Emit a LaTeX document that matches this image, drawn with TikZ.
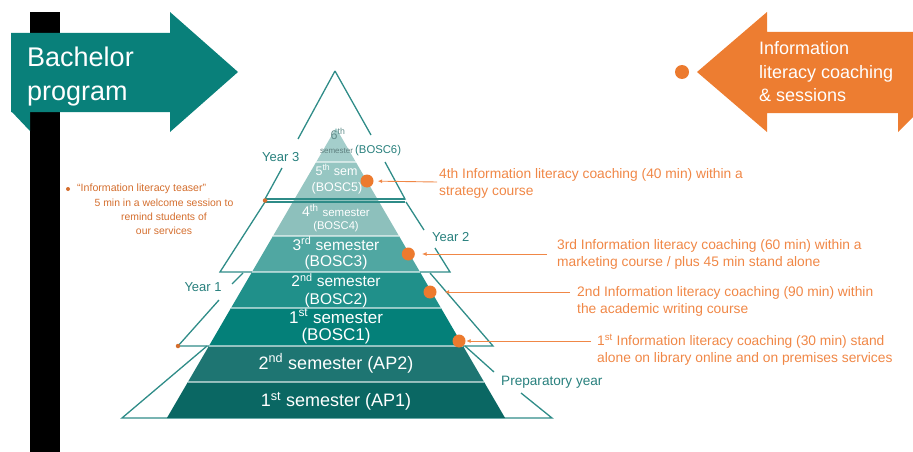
\documentclass[tikz,border=0pt]{standalone}
\usepackage{fontspec}
\setmainfont{Liberation Sans}
\usetikzlibrary{arrows.meta}

\definecolor{arrowteal}{RGB}{9,128,122}
\definecolor{arroworange}{RGB}{237,125,49}
\definecolor{outline}{RGB}{47,140,136}
\definecolor{labelteal}{RGB}{40,128,125}
\definecolor{noteorange}{RGB}{240,135,70}
\definecolor{teaserorange}{RGB}{212,110,46}
\definecolor{dotorange}{RGB}{236,122,46}
\definecolor{paletext}{RGB}{96,140,138}
\definecolor{tinytext}{RGB}{95,128,127}
\definecolor{layerA}{RGB}{164,206,203}
\definecolor{layerB}{RGB}{150,198,194}
\definecolor{layerC}{RGB}{141,192,188}
\definecolor{layerD}{RGB}{80,167,162}
\definecolor{layerE}{RGB}{32,144,138}
\definecolor{layerF}{RGB}{4,128,121}
\definecolor{layerG}{RGB}{30,117,114}
\definecolor{layerH}{RGB}{10,103,99}

\newcommand\fsz[2]{\fontsize{#1pt}{#2pt}\selectfont}

\begin{document}
\begin{tikzpicture}[x=1pt,y=-1pt,
  outl/.style={draw=outline,line width=1.3pt},
  yearlbl/.style={text=labelteal,font=\fsz{13}{15},inner sep=0,anchor=base west},
  pyr/.style={text=white,inner sep=0,anchor=base},
  coach/.style={text=noteorange,font=\fsz{13.8}{17},align=left,anchor=west,inner sep=0},
  ptr/.style={draw=noteorange,line width=0.9pt,-{Latex[length=4.5pt,width=4pt]}},
  hotspot/.style={circle,fill=dotorange,minimum size=13pt,inner sep=0},
  tinydot/.style={circle,fill=teaserorange,minimum size=4.5pt,inner sep=0},
  sep/.style={draw=white,draw opacity=0.55,line width=1.2pt}]
\useasboundingbox (0,0) rectangle (913,452);

% signpost bar and the two arrows
\fill[black] (30,12) rectangle (60,452);
\fill[arrowteal] (11,33) -- (170,33) -- (170,12) -- (238,72) -- (170,132)
  -- (170,112) -- (11,112) -- cycle;
\fill[arrowteal] (11,111) -- (30,111) -- (30,131) -- cycle;
\node[text=white,font=\fsz{27}{34.5},align=left,anchor=west,inner sep=0]
  (bachelor) at (27,76.5) {Bachelor\\program};

\fill[arroworange] (913,32) -- (767,32) -- (767,12) -- (697,72) -- (767,132)
  -- (767,113) -- (898,113) -- (898,132) -- (913,117) -- cycle;
\node[text=white,font=\fsz{18}{23.5},align=left,anchor=west,inner sep=0]
  (ilc) at (759,72) {Information\\literacy coaching\\\& sessions};
\node[hotspot,minimum size=14pt] (legenddot) at (682,72) {};

% year outlines (behind the pyramid)
\draw[outl] (335,71) -- (298,139) (282,168) -- (265,199) -- (405,199)
  -- (385,162) (371,135) -- (335,71);
\draw[outl] (265,202) -- (220,272) -- (450,272) -- (435,248) (424,230) -- (406,202);
\draw[outl] (243,273) -- (232,284) (219,300) -- (178,346) -- (493,346) -- (430,273);
\draw[outl] (207,346) -- (122,418) -- (552,418) -- (521,393) (494,372) -- (465,346);

% pyramid layers
\fill[layerA] (336,128) -- (355.8,162) -- (316.2,162) -- cycle;
\fill[layerB] (316.2,162) -- (355.8,162) -- (378,200) -- (294,200) -- cycle;
\fill[layerC] (294,200) -- (378,200) -- (399,236) -- (273,236) -- cycle;
\fill[layerD] (273,236) -- (399,236) -- (420,272) -- (252,272) -- cycle;
\fill[layerE] (252,272) -- (420,272) -- (441,308) -- (231,308) -- cycle;
\fill[layerF] (231,308) -- (441,308) -- (463.1,346) -- (208.9,346) -- cycle;
\fill[layerG] (208.9,346) -- (463.1,346) -- (484.1,382) -- (187.9,382) -- cycle;
\fill[layerH] (187.9,382) -- (484.1,382) -- (505.1,418) -- (166.9,418) -- cycle;
\draw[sep] (316.2,162) -- (355.8,162) (273,236) -- (399,236) (252,272) -- (420,272)
  (231,308) -- (441,308) (208.9,346) -- (463.1,346) (187.9,382) -- (484.1,382);

% boundary between year 3 and year 2 runs over the pyramid
\draw[outl] (265,199) -- (405,199) (265,202) -- (405,202);

% year labels
\node[yearlbl] (y3) at (262,161.7) {Year 3};
\node[yearlbl] (y2) at (432,241.5) {Year 2};
\node[yearlbl] (y1) at (184.3,291.7) {Year 1};
\node[yearlbl,font=\fsz{13.6}{15}] (yp) at (501,385) {Preparatory year};

% semester labels
\node[pyr,text=paletext,font=\fsz{12.5}{14}] (s6a) at (338,139) {6\textsuperscript{th}};
\node[pyr,text=tinytext,font=\fsz{8}{9}] (s6b) at (336.5,153) {semester};
\node[text=labelteal,fill=white,inner sep=1pt,anchor=base west,font=\fsz{11.3}{13}]
  (s6c) at (354,153.3) {(BOSC6)};
\node[pyr,font=\fsz{12.5}{14}] (s5a) at (336.5,175) {5\textsuperscript{th} sem};
\node[pyr,font=\fsz{12.5}{14}] (s5b) at (337,191.7) {(BOSC5)};
\node[pyr,font=\fsz{14}{16}] (s4a) at (336,216.7) {4\textsuperscript{th} {\fsz{11.5}{13}semester}};
\node[pyr,font=\fsz{11.2}{13}] (s4b) at (336,229) {(BOSC4)};
\node[pyr,font=\fsz{15.5}{18}] (s3a) at (336,250) {3\textsuperscript{rd} semester};
\node[pyr,font=\fsz{15.5}{18}] (s3b) at (336,266.7) {(BOSC3)};
\node[pyr,font=\fsz{15.5}{18}] (s2a) at (336,286.7) {2\textsuperscript{nd} semester};
\node[pyr,font=\fsz{15.5}{18}] (s2b) at (336,304) {(BOSC2)};
\node[pyr,font=\fsz{17}{19}] (s1a) at (336,323) {1\textsuperscript{st} semester};
\node[pyr,font=\fsz{17}{19}] (s1b) at (336,340.5) {(BOSC1)};
\node[pyr,font=\fsz{18}{20}] (ap2) at (336,369) {2\textsuperscript{nd} semester (AP2)};
\node[pyr,font=\fsz{18}{20}] (ap1) at (336,406.7) {1\textsuperscript{st} semester (AP1)};

% coaching hot spots
\node[hotspot] (d4) at (367,181) {};
\node[hotspot] (d3) at (408.3,254) {};
\node[hotspot] (d2) at (430,292) {};
\node[hotspot] (d1) at (459,341) {};
\node[tinydot] (m3) at (265,200.5) {};
\node[tinydot] (m1) at (178,346) {};

% coaching notes
\node[coach] (t4) at (439,183.4) {4th Information literacy coaching (40 min) within a\\strategy course};
\node[coach] (t3) at (557,254.9) {3rd Information literacy coaching (60 min) within a\\marketing course / plus 45 min stand alone};
\node[coach] (t2) at (577,301.9) {2nd Information literacy coaching (90 min) within\\the academic writing course};
\node[coach] (t1) at (597,349.9) {1\textsuperscript{st} Information literacy coaching (30 min) stand\\alone on library online and on premises services};

\coordinate (c4) at (437,182);
\coordinate (c3) at (547,254);
\coordinate (c2) at (570,292);
\coordinate (c1) at (591,341);
\draw[ptr,shorten >=4pt] (c4) -- (d4);
\draw[ptr,shorten >=7pt] (c3) -- (d3);
\draw[ptr,shorten >=8pt] (c2) -- (d2);
\draw[ptr,shorten >=0.5pt] (c1) -- (d1);

% teaser note
\node[tinydot,minimum size=4pt] (tb) at (68,189) {};
\node[text=teaserorange,font=\fsz{10.6}{14},anchor=west,inner sep=0] (tq) at (77,189)
  {“Information literacy teaser”};
\node[text=teaserorange,font=\fsz{10.4}{14},align=center,inner sep=0] (tn) at (164,217)
  {5 min in a welcome session to\\remind students of\\our services};
\end{tikzpicture}
\end{document}
